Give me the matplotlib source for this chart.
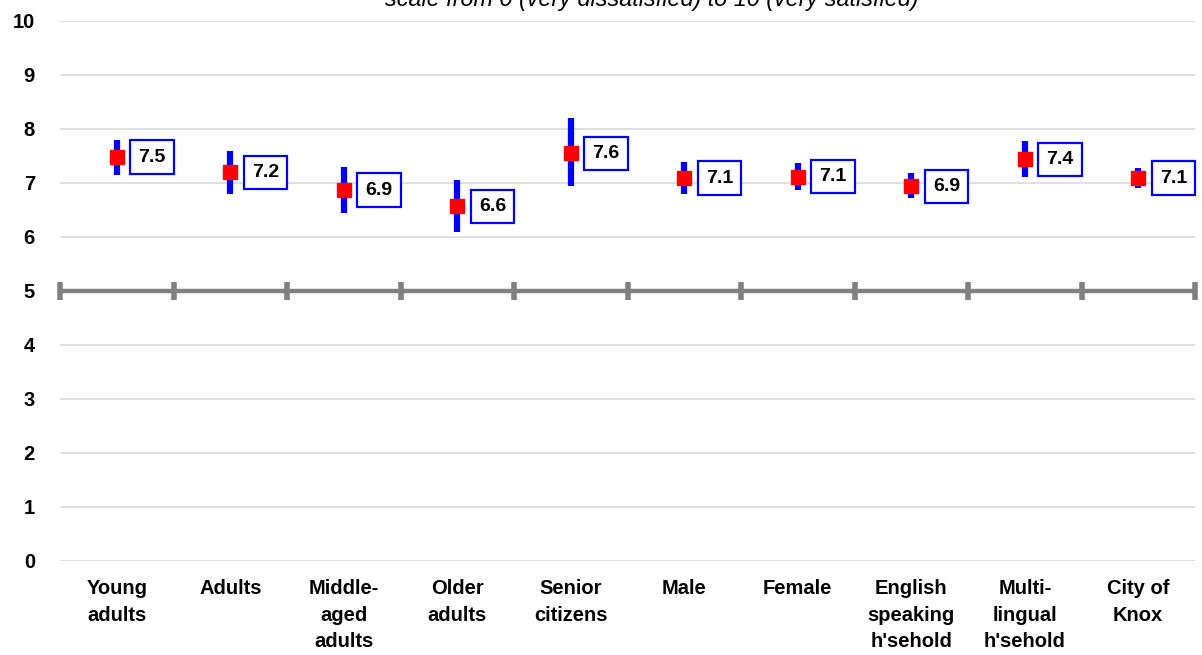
import matplotlib.pyplot as plt
import numpy as np

plt.rcParams['font.family'] = ['Liberation Sans', 'DejaVu Sans']

categories = ["Young\nadults", "Adults", "Middle-\naged\nadults", "Older\nadults",
              "Senior\ncitizens", "Male", "Female", "English\nspeaking\nh'sehold",
              "Multi-\nlingual\nh'sehold", "City of\nKnox"]
means = [7.48, 7.2, 6.87, 6.57, 7.55, 7.09, 7.12, 6.94, 7.44, 7.09]
upper = [7.8, 7.6, 7.3, 7.05, 8.2, 7.39, 7.37, 7.18, 7.78, 7.28]
lower = [7.15, 6.8, 6.45, 6.1, 6.95, 6.8, 6.87, 6.72, 7.11, 6.9]
labels = ["7.5", "7.2", "6.9", "6.6", "7.6", "7.1", "7.1", "6.9", "7.4", "7.1"]
subtitle = "scale from 0 (very dissatisfied) to 10 (very satisfied)"

fig = plt.figure(figsize=(12.02, 6.55), dpi=100)
ax = fig.add_axes([60 / 1202, 94 / 655, 1135 / 1202, 540 / 655])

x = np.arange(len(categories))
ax.set_xlim(-0.5, len(categories) - 0.5)
ax.set_ylim(0, 10)

# gridlines
for yv in range(0, 11):
    ax.axhline(yv, color='#d9d9d9', lw=1.2, zorder=0)

# the axis line at 5 with category boundary ticks
ax.axhline(5, color='#808080', lw=3.2, zorder=1)
bounds = np.arange(len(categories) + 1) - 0.5
ax.plot(bounds, [5] * len(bounds), linestyle='none', marker='|', markersize=13,
        markeredgewidth=4, color='#808080', zorder=1, clip_on=False)

# error bars
ax.vlines(x, lower, upper, color='#0000ff', lw=4.5, zorder=2)
ax.plot(x, means, linestyle='none', marker='s', markersize=10, color='#ff0000', zorder=3)

for xi, m, lab in zip(x, means, labels):
    ax.annotate(lab, xy=(xi, m), xytext=(15.5, 0), textcoords='offset points',
                ha='left', va='center', fontsize=14, fontweight='bold', color='black',
                bbox=dict(boxstyle='square,pad=0.42', fc='white', ec='#0000ff', lw=1.6),
                zorder=4)

for s in ax.spines.values():
    s.set_visible(False)

ax.set_yticks(range(0, 11))
ax.set_yticklabels([str(v) for v in range(0, 11)], fontsize=14.5, fontweight='bold')
ax.tick_params(axis='y', length=0, pad=18)
ax.set_xticks(x)
ax.set_xticklabels(categories, fontsize=14.5, fontweight='bold', va='top')
for t in ax.get_xticklabels():
    t.set_linespacing(1.5)
ax.tick_params(axis='x', length=0, pad=13)

fig.text(652 / 1202, 1 - 6 / 655, subtitle, ha='center', va='baseline', fontsize=16.8,
         style='italic')

fig.savefig('out.png', dpi=100)
